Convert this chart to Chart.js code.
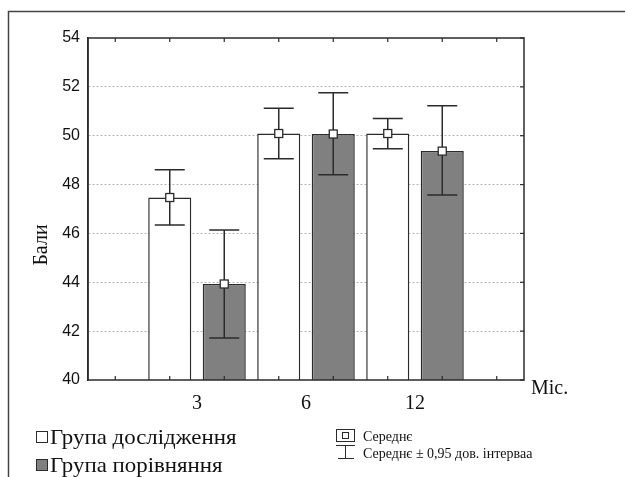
<!DOCTYPE html>
<html>
<head>
<meta charset="utf-8">
<script src="https://cdn.jsdelivr.net/npm/chart.js@4/dist/chart.umd.min.js"></script>
<style>
  body { margin: 0; background: #fff; }
  #wrap { position: relative; width: 625px; height: 477px; }
</style>
</head>
<body>
<div id="wrap"><canvas id="myChart"></canvas></div>
<script>
// months after treatment
var categories = ['3', '6', '12'];
// study group (white bars)
var studyMean = [47.47, 50.09, 50.09];
var studyLow = [46.34, 49.06, 49.47];
var studyHigh = [48.61, 51.12, 50.70];
// comparison group (grey bars)
var compMean = [43.93, 50.07, 49.37];
var compLow = [41.72, 48.40, 47.57];
var compHigh = [46.14, 51.76, 51.23];
var yTicks = [40, 42, 44, 46, 48, 50, 52, 54];

var seriesNames = ['Група дослідження', 'Група порівняння'];
var serif = '"Liberation Serif", "DejaVu Serif", serif';
var dark = '#2b2b2b';

// empty slots at both ends so the groups sit like in the original
var labels = [''].concat(categories, ['']);
function pad(arr) { return [null].concat(arr, [null]); }

var extras = {
  id: 'extras',
  afterDatasetsDraw: function(chart) {
    var ctx = chart.ctx, a = chart.chartArea;
    var x = chart.scales.x, y = chart.scales.y;
    var groups = [[studyLow, studyHigh, studyMean], [compLow, compHigh, compMean]];

    // small inward ticks top and bottom
    ctx.save();
    ctx.strokeStyle = dark;
    ctx.lineWidth = 1.2;
    for (var k = 0.25; k < labels.length - 1; k += 0.5) {
      var px = x.getPixelForValue(k);
      ctx.beginPath();
      ctx.moveTo(px, a.top); ctx.lineTo(px, a.top + 4);
      ctx.moveTo(px, a.bottom); ctx.lineTo(px, a.bottom - 4);
      ctx.stroke();
    }
    // small inward ticks on the right side
    yTicks.forEach(function(v) {
      var py = y.getPixelForValue(v);
      ctx.beginPath();
      ctx.moveTo(a.right, py); ctx.lineTo(a.right - 4, py);
      ctx.stroke();
    });

    // error bars
    ctx.lineWidth = 1.5;
    groups.forEach(function(g, di) {
      var meta = chart.getDatasetMeta(di);
      categories.forEach(function(c, i) {
        var bx = meta.data[i + 1].x;
        var yl = y.getPixelForValue(g[0][i]);
        var yh = y.getPixelForValue(g[1][i]);
        ctx.beginPath();
        ctx.moveTo(bx, yl); ctx.lineTo(bx, yh);
        ctx.moveTo(bx - 15, yl); ctx.lineTo(bx + 15, yl);
        ctx.moveTo(bx - 15, yh); ctx.lineTo(bx + 15, yh);
        ctx.stroke();
      });
    });
    // mean markers
    groups.forEach(function(g, di) {
      var meta = chart.getDatasetMeta(di);
      categories.forEach(function(c, i) {
        var bx = meta.data[i + 1].x;
        var ym = y.getPixelForValue(g[2][i]);
        ctx.fillStyle = '#fff';
        ctx.fillRect(bx - 4, ym - 4, 8, 8);
        ctx.lineWidth = 1.3;
        ctx.strokeRect(bx - 4, ym - 4, 8, 8);
      });
    });

    // plot frame
    ctx.lineWidth = 1.5;
    ctx.strokeRect(a.left, a.top, a.right - a.left, a.bottom - a.top);
    ctx.restore();
  },
  afterDraw: function(chart) {
    var ctx = chart.ctx;
    ctx.save();
    // outer frame (left and top only, cut by the picture)
    ctx.strokeStyle = '#444';
    ctx.lineWidth = 1.5;
    ctx.beginPath();
    ctx.moveTo(8.5, 477); ctx.lineTo(8.5, 11.5); ctx.lineTo(625, 11.5);
    ctx.stroke();

    ctx.fillStyle = '#111';
    // y title
    ctx.save();
    ctx.translate(42, 245);
    ctx.rotate(-Math.PI / 2);
    ctx.font = '20px ' + serif;
    ctx.textAlign = 'center';
    ctx.textBaseline = 'middle';
    ctx.fillText('Бали', 0, 0);
    ctx.restore();

    // x unit
    ctx.font = '20px ' + serif;
    ctx.textAlign = 'left';
    ctx.textBaseline = 'alphabetic';
    ctx.fillText('Міс.', 531, 394);

    // series legend
    ctx.lineWidth = 1;
    ctx.strokeStyle = dark;
    ctx.fillStyle = '#fff';
    ctx.fillRect(36.5, 431.5, 11, 11);
    ctx.strokeRect(36.5, 431.5, 11, 11);
    ctx.fillStyle = '#808080';
    ctx.fillRect(36.5, 459.5, 11, 11);
    ctx.strokeRect(36.5, 459.5, 11, 11);
    ctx.fillStyle = '#111';
    ctx.font = '21px ' + serif;
    ctx.save();
    ctx.translate(50, 0);
    ctx.scale(1.09, 1);
    ctx.fillText(seriesNames[0], 0, 444);
    ctx.fillText(seriesNames[1], 0, 472);
    ctx.restore();

    // mean / CI legend
    ctx.strokeRect(336.5, 429.5, 18, 12);
    ctx.strokeRect(342.5, 432.5, 6, 6);
    ctx.beginPath();
    ctx.moveTo(336, 445.5); ctx.lineTo(355, 445.5);
    ctx.moveTo(345.5, 445.5); ctx.lineTo(345.5, 458.5);
    ctx.moveTo(338, 458.5); ctx.lineTo(354, 458.5);
    ctx.stroke();
    ctx.font = '14px ' + serif;
    ctx.fillText('Середнє', 363, 441);
    ctx.fillText('Середнє ± 0,95 дов. інтерваа', 363, 458);
    ctx.restore();
  }
};

var ctx1 = document.getElementById('myChart').getContext('2d');
var myChart = new Chart(ctx1, {
  type: 'bar',
  data: {
    labels: labels,
    datasets: [{
      label: seriesNames[0],
      data: pad(studyMean),
      backgroundColor: '#ffffff',
      borderColor: dark,
      borderWidth: 1.5
    }, {
      label: seriesNames[1],
      data: pad(compMean),
      backgroundColor: '#808080',
      borderColor: dark,
      borderWidth: 1.5
    }]
  },
  options: {
    responsive: true,
    maintainAspectRatio: false,
    animation: false,
    layout: { padding: { left: 0, top: 38, right: 101, bottom: 0 } },
    datasets: { bar: { categoryPercentage: 1, barPercentage: 0.79 } },
    plugins: { legend: { display: false }, tooltip: { enabled: false } },
    scales: {
      x: {
        offset: false,
        grid: { display: false, drawTicks: false },
        border: { display: false },
        ticks: {
          autoSkip: false,
          maxRotation: 0,
          padding: 12,
          color: '#111',
          font: { family: serif, size: 20 }
        },
        afterFit: function(s) { s.height = 97; }
      },
      y: {
        min: 40,
        max: 54,
        afterBuildTicks: function(s) {
          s.ticks = yTicks.map(function(v) { return { value: v }; });
        },
        grid: {
          drawTicks: false,
          lineWidth: 1,
          color: function(c) {
            var v = c.tick && c.tick.value;
            return (v === 40 || v === 54) ? 'rgba(0,0,0,0)' : '#b4b4b4';
          }
        },
        border: { display: true, color: dark, width: 1.5, dash: [2, 2] },
        ticks: {
          padding: 8,
          color: '#111',
          font: { family: '"Liberation Sans", Arial, sans-serif', size: 16 }
        },
        afterFit: function(s) { s.width = 88; }
      }
    }
  },
  plugins: [extras]
});
</script>
</body>
</html>
